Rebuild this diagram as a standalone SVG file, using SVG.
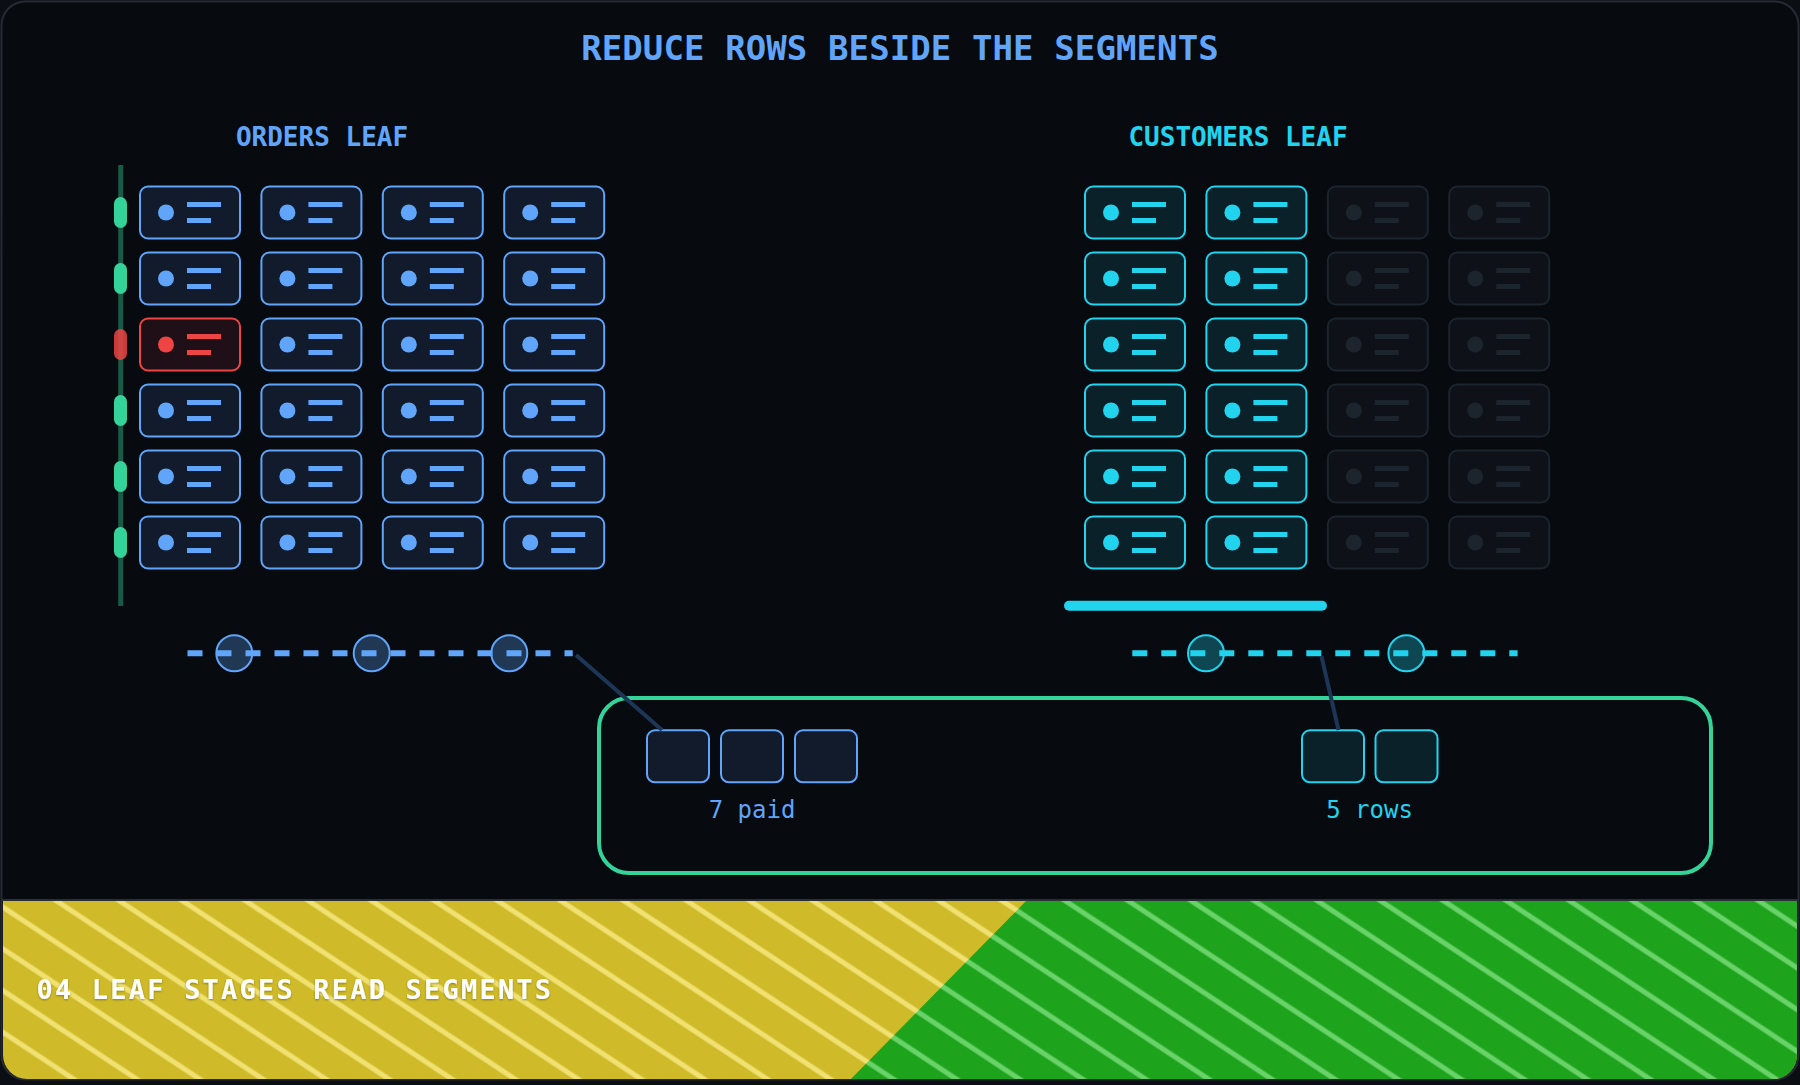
<svg xmlns="http://www.w3.org/2000/svg" xmlns:xlink="http://www.w3.org/1999/xlink" width="1800" height="1085" viewBox="0 0 1800 1085">
<style>
.t{font-family:"DejaVu Sans Mono","Liberation Mono",monospace}
.title{font-size:34px;font-weight:bold;fill:#60a5fa;letter-spacing:0.1px}
.head{font-size:26px;font-weight:bold}
.lbl{font-size:24px}
.cb{fill:#111b2b;color:#60a5fa}
.cr{fill:#1e1016;color:#ef4444}
.cc{fill:#0a2129;color:#22d3ee}
.cf{fill:#0e1118;color:#1c242e}
.pill{fill:#34d399}
.dash{stroke-width:6;stroke-dasharray:15 14;fill:none}
.knob{stroke-width:2;fill-opacity:0.3}
.conn{stroke:#1e3656;stroke-width:4;fill:none}
.sb{fill:#111b2b;stroke:#60a5fa;stroke-width:2}
.sc{fill:#0a2129;stroke:#22d3ee;stroke-width:2}
</style>
<defs>
<g id="card">
<rect width="100" height="52" rx="8" stroke="currentColor" stroke-width="2"/>
<circle cx="26" cy="26" r="8" fill="currentColor"/>
<rect x="47" y="15.5" width="34" height="5" fill="currentColor"/>
<rect x="47" y="31.5" width="24" height="5" fill="currentColor"/>
</g>
<pattern id="py" patternUnits="userSpaceOnUse" width="40" height="34.8" patternTransform="rotate(33.5)">
<rect width="40" height="34.8" fill="#cfbb29"/>
<rect y="21.5" width="40" height="5" fill="#f0e172"/>
</pattern>
<pattern id="pg" patternUnits="userSpaceOnUse" width="40" height="34.8" patternTransform="rotate(33.5)">
<rect width="40" height="34.8" fill="#1ea41c"/>
<rect y="21.5" width="40" height="5" fill="#69d36a"/>
</pattern>
<clipPath id="bandclip"><path d="M3,901 H1797 V1055 A24,24 0 0 1 1773,1079 H27 A24,24 0 0 1 3,1055 Z"/></clipPath>
<filter id="sh" x="-5%" y="-30%" width="110%" height="160%"><feDropShadow dx="0" dy="1" stdDeviation="1" flood-color="#000" flood-opacity="0.35"/></filter>
</defs>

<rect width="1800" height="1085" fill="#0b0e13"/>
<rect id="frame" x="1.5" y="1.5" width="1797" height="1078" rx="24" fill="#070a0f" stroke="#262b33" stroke-width="2"/>

<text class="t title" x="900" y="59.5" text-anchor="middle">REDUCE ROWS BESIDE THE SEGMENTS</text>
<text class="t head" x="322" y="146" text-anchor="middle" fill="#60a5fa">ORDERS LEAF</text>
<text class="t head" x="1238" y="146" text-anchor="middle" fill="#22d3ee">CUSTOMERS LEAF</text>

<g id="orders-rail">
<line x1="120.7" y1="165" x2="120.7" y2="606" stroke="#34d399" stroke-opacity="0.4" stroke-width="5"/>
<rect class="pill" x="114" y="197" width="13" height="31" rx="6.5"/>
<rect class="pill" x="114" y="263" width="13" height="31" rx="6.5"/>
<rect x="114" y="329" width="13" height="31" rx="6.5" fill="#ef4444" fill-opacity="0.85"/>
<rect class="pill" x="114" y="395" width="13" height="31" rx="6.5"/>
<rect class="pill" x="114" y="461" width="13" height="31" rx="6.5"/>
<rect class="pill" x="114" y="527" width="13" height="31" rx="6.5"/>
</g>

<g id="orders-cards">
<g id="o-r1" class="cb"><use href="#card" x="140" y="186.5"/><use href="#card" x="261.4" y="186.5"/><use href="#card" x="382.8" y="186.5"/><use href="#card" x="504.2" y="186.5"/></g>
<g id="o-r2" class="cb"><use href="#card" x="140" y="252.5"/><use href="#card" x="261.4" y="252.5"/><use href="#card" x="382.8" y="252.5"/><use href="#card" x="504.2" y="252.5"/></g>
<g id="o-r3-filtered" class="cr"><use href="#card" x="140" y="318.5"/></g>
<g id="o-r3" class="cb"><use href="#card" x="261.4" y="318.5"/><use href="#card" x="382.8" y="318.5"/><use href="#card" x="504.2" y="318.5"/></g>
<g id="o-r4" class="cb"><use href="#card" x="140" y="384.5"/><use href="#card" x="261.4" y="384.5"/><use href="#card" x="382.8" y="384.5"/><use href="#card" x="504.2" y="384.5"/></g>
<g id="o-r5" class="cb"><use href="#card" x="140" y="450.5"/><use href="#card" x="261.4" y="450.5"/><use href="#card" x="382.8" y="450.5"/><use href="#card" x="504.2" y="450.5"/></g>
<g id="o-r6" class="cb"><use href="#card" x="140" y="516.5"/><use href="#card" x="261.4" y="516.5"/><use href="#card" x="382.8" y="516.5"/><use href="#card" x="504.2" y="516.5"/></g>
</g>

<g id="customers-cards">
<g id="c-active" class="cc">
<use href="#card" x="1085" y="186.5"/><use href="#card" x="1206.4" y="186.5"/>
<use href="#card" x="1085" y="252.5"/><use href="#card" x="1206.4" y="252.5"/>
<use href="#card" x="1085" y="318.5"/><use href="#card" x="1206.4" y="318.5"/>
<use href="#card" x="1085" y="384.5"/><use href="#card" x="1206.4" y="384.5"/>
<use href="#card" x="1085" y="450.5"/><use href="#card" x="1206.4" y="450.5"/>
<use href="#card" x="1085" y="516.5"/><use href="#card" x="1206.4" y="516.5"/>
</g>
<g id="c-faded" class="cf">
<use href="#card" x="1327.8" y="186.5"/><use href="#card" x="1449.2" y="186.5"/>
<use href="#card" x="1327.8" y="252.5"/><use href="#card" x="1449.2" y="252.5"/>
<use href="#card" x="1327.8" y="318.5"/><use href="#card" x="1449.2" y="318.5"/>
<use href="#card" x="1327.8" y="384.5"/><use href="#card" x="1449.2" y="384.5"/>
<use href="#card" x="1327.8" y="450.5"/><use href="#card" x="1449.2" y="450.5"/>
<use href="#card" x="1327.8" y="516.5"/><use href="#card" x="1449.2" y="516.5"/>
</g>
<line id="c-bar" x1="1069" y1="605.8" x2="1322" y2="605.8" stroke="#22d3ee" stroke-width="10" stroke-linecap="round"/>
</g>

<g id="orders-stream">
<line class="dash" x1="187.5" y1="653.3" x2="572.7" y2="653.3" stroke="#60a5fa"/>
<circle class="knob" cx="234.3" cy="653.3" r="18" fill="#60a5fa" stroke="#60a5fa"/>
<circle class="knob" cx="371.7" cy="653.3" r="18" fill="#60a5fa" stroke="#60a5fa"/>
<circle class="knob" cx="509.3" cy="653.3" r="18" fill="#60a5fa" stroke="#60a5fa"/>
</g>
<g id="customers-stream">
<line class="dash" x1="1132.3" y1="653.3" x2="1517.6" y2="653.3" stroke="#22d3ee"/>
<circle class="knob" cx="1206" cy="653.3" r="18" fill="#22d3ee" stroke="#22d3ee"/>
<circle class="knob" cx="1406.4" cy="653.3" r="18" fill="#22d3ee" stroke="#22d3ee"/>
</g>

<g id="reduce-box">
<rect x="599" y="698" width="1112" height="175" rx="30" fill="none" stroke="#34d399" stroke-width="4"/>
</g>
<g id="orders-out">
<rect class="sb" x="647" y="730.3" width="62" height="52" rx="8"/>
<rect class="sb" x="721" y="730.3" width="62" height="52" rx="8"/>
<rect class="sb" x="795" y="730.3" width="62" height="52" rx="8"/>
<text class="t lbl" x="752" y="818.3" text-anchor="middle" fill="#60a5fa">7 paid</text>
</g>
<g id="customers-out">
<rect class="sc" x="1302" y="730.3" width="62" height="52" rx="8"/>
<rect class="sc" x="1375.5" y="730.3" width="62" height="52" rx="8"/>
<text class="t lbl" x="1369.5" y="818.3" text-anchor="middle" fill="#22d3ee">5 rows</text>
</g>

<g id="connectors">
<line class="conn" x1="576" y1="655" x2="662" y2="730"/>
<line class="conn" x1="1321.4" y1="656" x2="1338.5" y2="730"/>
</g>

<g id="footer">
<g clip-path="url(#bandclip)">
<rect x="0" y="900" width="1800" height="185" fill="url(#py)"/>
<polygon points="1026,901 1800,901 1800,1085 845,1085" fill="url(#pg)"/>
</g>
<line x1="2" y1="900" x2="1798" y2="900" stroke="#2a2f38" stroke-width="2"/>
<text class="t" x="36.5" y="999" font-size="27" font-weight="bold" letter-spacing="2.2" fill="#ffffff" filter="url(#sh)">04 LEAF STAGES READ SEGMENTS</text>
</g>
</svg>
